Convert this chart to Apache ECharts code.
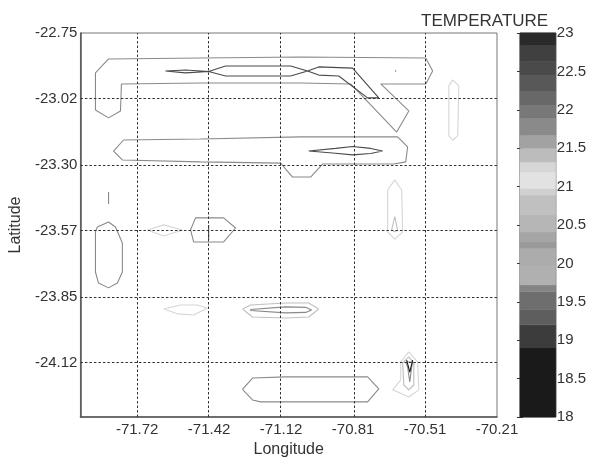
<!DOCTYPE html>
<html>
<head>
<meta charset="utf-8">
<title>Temperature contours</title>
<script src="https://cdn.jsdelivr.net/npm/echarts@6/dist/echarts.min.js"></script>
<style>
  html, body { margin: 0; padding: 0; background: #fff; }
  #chart { width: 589px; height: 463px; }
</style>
</head>
<body>
<div id="chart"></div>
<script>
// axis ticks (longitude / latitude)
const lonTicks = [-71.72, -71.418, -71.116, -70.814, -70.512, -70.21]
const latTicks = [-22.75, -23.024, -23.298, -23.572, -23.846, -24.12]
const lonRange = [-71.958, -70.21]
const latRange = [-24.347, -22.75]

// colour bar bands (temperature)
const cbarLow = [18, 18.9, 19.2, 19.4, 19.63, 19.72, 19.98, 20.2, 20.28, 20.41, 20.63, 20.89, 20.98, 21.19, 21.32, 21.5, 21.67, 21.89, 22.06, 22.24, 22.45, 22.63, 22.84]
const cbarHigh = [18.9, 19.2, 19.4, 19.63, 19.72, 19.98, 20.2, 20.28, 20.41, 20.63, 20.89, 20.98, 21.19, 21.32, 21.5, 21.67, 21.89, 22.06, 22.24, 22.45, 22.63, 22.84, 23]
const cbarShade = ['#1a1a1a', '#3c3c3c', '#5e5e5e', '#6e6e6e', '#848484', '#b0b0b0', '#acacac', '#9a9a9a', '#a6a6a6', '#b6b6b6', '#c0c0c0', '#d0d0d0', '#e2e2e2', '#d6d6d6', '#bcbcbc', '#a2a2a2', '#8a8a8a', '#787878', '#686868', '#585858', '#4a4a4a', '#404040', '#2a2a2a']

// contour paths [lon, lat]
const upperHook = [[-71.840, -22.858], [-71.454, -22.854], [-71.034, -22.850], [-70.509, -22.854], [-70.480, -22.908], [-70.509, -22.962], [-70.698, -22.962], [-70.580, -23.074], [-70.631, -23.162], [-70.824, -22.962], [-71.034, -22.958], [-71.454, -22.958], [-71.786, -22.962], [-71.790, -23.074], [-71.840, -23.103], [-71.895, -23.070], [-71.895, -22.916], [-71.840, -22.858]]
const upperCore = [[-71.601, -22.908], [-71.517, -22.904], [-71.420, -22.910], [-71.349, -22.887], [-71.076, -22.887], [-71.005, -22.908], [-70.958, -22.925], [-70.874, -22.929], [-70.753, -23.020], [-70.706, -23.020], [-70.816, -22.896], [-70.958, -22.891], [-71.005, -22.908], [-71.076, -22.929], [-71.349, -22.929], [-71.420, -22.910], [-71.517, -22.916], [-71.601, -22.908]]
const upperDot = [[-70.637, -22.907], [-70.633, -22.909]]
const middleBand = [[-71.777, -23.195], [-71.454, -23.191], [-71.034, -23.182], [-70.627, -23.182], [-70.585, -23.224], [-70.593, -23.286], [-70.643, -23.295], [-70.942, -23.295], [-70.992, -23.349], [-71.068, -23.349], [-71.118, -23.291], [-71.454, -23.286], [-71.782, -23.278], [-71.819, -23.241], [-71.777, -23.195]]
const middleCore = [[-71.000, -23.241], [-70.887, -23.230], [-70.816, -23.222], [-70.740, -23.230], [-70.690, -23.241], [-70.740, -23.251], [-70.816, -23.257], [-70.900, -23.249], [-71.000, -23.241]]
const westTick = [[-71.840, -23.411], [-71.840, -23.461]]
const westOval = [[-71.887, -23.557], [-71.840, -23.536], [-71.811, -23.557], [-71.782, -23.623], [-71.782, -23.744], [-71.803, -23.790], [-71.840, -23.810], [-71.882, -23.790], [-71.895, -23.744], [-71.895, -23.577], [-71.887, -23.557]]
const smallLens = [[-71.677, -23.569], [-71.609, -23.548], [-71.530, -23.569], [-71.609, -23.594], [-71.677, -23.569]]
const hexMid = [[-71.496, -23.569], [-71.475, -23.519], [-71.357, -23.519], [-71.307, -23.561], [-71.357, -23.619], [-71.483, -23.619], [-71.496, -23.569]]
const hexMidCore = [[-71.420, -23.548], [-71.420, -23.611]]
const eastStrip = [[-70.396, -22.945], [-70.412, -22.970], [-70.412, -23.178], [-70.396, -23.196], [-70.375, -23.178], [-70.370, -22.970], [-70.396, -22.945]]
const eastDrop = [[-70.639, -23.361], [-70.669, -23.403], [-70.669, -23.577], [-70.639, -23.607], [-70.606, -23.577], [-70.610, -23.403], [-70.639, -23.361]]
const eastDropCore = [[-70.639, -23.514], [-70.652, -23.569], [-70.639, -23.577], [-70.627, -23.569], [-70.639, -23.514]]
const lowerLens = [[-71.609, -23.898], [-71.538, -23.881], [-71.467, -23.881], [-71.425, -23.894], [-71.483, -23.923], [-71.551, -23.918], [-71.609, -23.898]]
const lowerBand = [[-71.278, -23.898], [-71.244, -23.881], [-71.097, -23.873], [-71.000, -23.873], [-70.958, -23.898], [-71.000, -23.931], [-71.097, -23.935], [-71.236, -23.931], [-71.278, -23.898]]
const lowerCore = [[-71.244, -23.900], [-71.097, -23.889], [-71.013, -23.891], [-70.988, -23.902], [-71.013, -23.912], [-71.097, -23.914], [-71.244, -23.904], [-71.244, -23.900]]
const bottomHex = [[-71.278, -24.232], [-71.236, -24.185], [-71.097, -24.180], [-70.753, -24.180], [-70.706, -24.230], [-70.753, -24.284], [-71.202, -24.284], [-71.236, -24.276], [-71.278, -24.232]]
const spotOuter = [[-70.580, -24.076], [-70.543, -24.118], [-70.538, -24.234], [-70.580, -24.264], [-70.648, -24.234], [-70.614, -24.193], [-70.614, -24.118], [-70.580, -24.076]]
const spotMiddle = [[-70.580, -24.097], [-70.559, -24.122], [-70.559, -24.214], [-70.580, -24.234], [-70.601, -24.214], [-70.606, -24.122], [-70.580, -24.097]]
const spotInner = [[-70.593, -24.118], [-70.564, -24.118], [-70.568, -24.139], [-70.576, -24.201], [-70.585, -24.139], [-70.593, -24.118]]
const spotCore = [[-70.589, -24.110], [-70.576, -24.160], [-70.564, -24.110]]

const contourPaths = [upperHook, upperCore, upperDot, middleBand, middleCore, westTick, westOval, smallLens, hexMid, hexMidCore, eastStrip, eastDrop, eastDropCore, lowerLens, lowerBand, lowerCore, bottomHex, spotOuter, spotMiddle, spotInner, spotCore]
const contourLevels = [21.8, 22.6, 22.6, 21.8, 22.6, 21.8, 21.8, 21.25, 21.8, 22.6, 21.25, 21.25, 20.7, 21.25, 20.7, 21.8, 21.8, 21.25, 21.4, 21.8, 18.5]

function shadeAt (v) {
  for (let i = 0; i < cbarLow.length; i++) {
    if (v >= cbarLow[i] && v < cbarHigh[i]) return cbarShade[i]
  }
  return cbarShade[cbarShade.length - 1]
}

const font = 'Liberation Sans'
const chart = echarts.init(document.getElementById('chart'))

// dotted grid lines at the labelled ticks
const gridDash = {
  symbol: 'none',
  silent: true,
  label: { show: false },
  lineStyle: { color: '#333', type: [2.5, 2], width: 1 },
  data: lonTicks.slice(0, -1).map(v => ({ xAxis: v })).concat(latTicks.slice(1).map(v => ({ yAxis: v })))
}

const contourSeries = contourPaths.map((path, i) => ({
  type: 'line',
  xAxisIndex: 0,
  yAxisIndex: 0,
  data: path,
  showSymbol: false,
  silent: true,
  animation: false,
  lineStyle: { color: shadeAt(contourLevels[i]), width: 1.1 },
  markLine: i === 0 ? gridDash : undefined
}))

const option = {
  animation: false,
  title: {
    text: 'TEMPERATURE',
    left: 416,
    top: 8,
    textStyle: { fontFamily: font, fontSize: 17, fontWeight: 'normal', color: '#333' }
  },
  grid: [
    { left: 80, top: 33, width: 417, height: 384, show: true, borderColor: '#777', borderWidth: 1 },
    { left: 520, top: 33, width: 37, height: 384, show: true, borderColor: '#444', borderWidth: 1 }
  ],
  xAxis: [
    {
      type: 'value',
      gridIndex: 0,
      min: lonRange[0],
      max: lonRange[1],
      name: 'Longitude',
      nameLocation: 'middle',
      nameGap: 25,
      nameTextStyle: { fontFamily: font, fontSize: 16, color: '#333' },
      axisLine: { show: true, lineStyle: { color: '#555', width: 1.5 } },
      axisTick: { show: false },
      splitLine: { show: false },
      axisLabel: {
        customValues: lonTicks,
        formatter: v => v.toFixed(2),
        fontFamily: font,
        fontSize: 15,
        color: '#333',
        margin: 5
      }
    },
    { type: 'value', gridIndex: 1, min: 0, max: 1, show: false }
  ],
  yAxis: [
    {
      type: 'value',
      gridIndex: 0,
      min: latRange[0],
      max: latRange[1],
      name: 'Latitude',
      nameLocation: 'middle',
      nameGap: 54,
      nameTextStyle: { fontFamily: font, fontSize: 16, color: '#333' },
      axisLine: { show: true, lineStyle: { color: '#555', width: 1.5 } },
      axisTick: { show: false },
      splitLine: { show: false },
      axisLabel: {
        customValues: latTicks,
        formatter: v => v.toFixed(2),
        fontFamily: font,
        fontSize: 15,
        color: '#333',
        margin: 3
      }
    },
    {
      type: 'value',
      gridIndex: 1,
      position: 'right',
      min: 18,
      max: 23,
      interval: 0.5,
      axisLine: { show: false },
      axisTick: { show: true, inside: true, length: 3, lineStyle: { color: '#333' } },
      splitLine: { show: false },
      axisLabel: { fontFamily: font, fontSize: 15, color: '#333', margin: 1 }
    },
    {
      type: 'value',
      gridIndex: 1,
      position: 'left',
      min: 18,
      max: 23,
      interval: 0.5,
      axisLine: { show: false },
      axisTick: { show: true, inside: true, length: 3, lineStyle: { color: '#333' } },
      splitLine: { show: false },
      axisLabel: { show: false }
    }
  ],
  series: [
    {
      type: 'custom',
      xAxisIndex: 1,
      yAxisIndex: 1,
      silent: true,
      z: 1,
      data: cbarLow.map((lo, i) => [0, lo, cbarHigh[i], i]),
      encode: { x: 0, y: 1 },
      renderItem (params, api) {
        const p0 = api.coord([0, api.value(1)])
        const p1 = api.coord([1, api.value(2)])
        const color = cbarShade[api.value(3)]
        return {
          type: 'rect',
          shape: { x: p0[0], y: p1[1], width: p1[0] - p0[0], height: p0[1] - p1[1] },
          style: { fill: color, stroke: color, lineWidth: 0.5 }
        }
      }
    }
  ].concat(contourSeries)
}

chart.setOption(option)
</script>
</body>
</html>
